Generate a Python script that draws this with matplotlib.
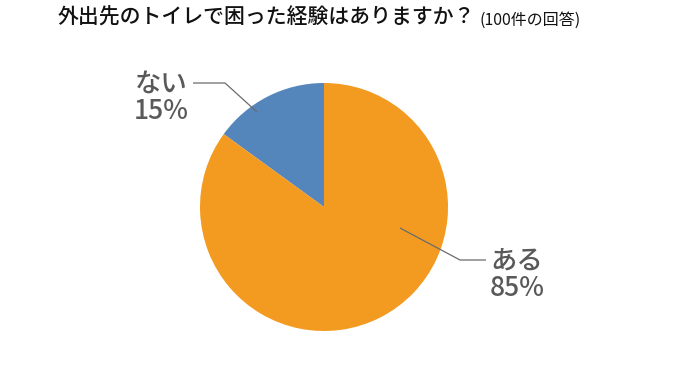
import matplotlib
matplotlib.use("Agg")
import matplotlib.pyplot as plt
import numpy as np

plt.rcParams['font.family'] = ['Noto Sans CJK JP', 'DejaVu Sans']

# data
labels = ["ない", "ある"]
values = [15, 85]
colors = ["#5586BB", "#F39A21"]
title = "外出先のトイレで困った経験はありますか？"
subtitle = "(100件の回答)"

fig = plt.figure(figsize=(6.8, 3.7), dpi=100)
W, H = 680, 370

# pie axes: center (324, 207) px, radius 124 px
cx, cy, r = 324, 207, 124
ax = fig.add_axes([(cx - r) / W, (H - cy - r) / H, 2 * r / W, 2 * r / H])
wedges, _ = ax.pie(values, colors=colors, startangle=90, counterclock=True,
                   radius=1.0, wedgeprops={'linewidth': 0})
ax.set_xlim(-1, 1)
ax.set_ylim(-1, 1)
ax.set_aspect('equal')
ax.axis('off')


def px(x, y):
    # figure pixel (from top-left) -> pie data units
    return (x - cx) / r, (cy - y) / r


# leader line layout (pixel positions): anchor, elbow, end, text centre
leaders = [
    ((257, 112), (225, 83), (193, 83), (161, 98)),
    ((400, 228), (460, 260), (486, 260), (517, 275)),
]
for (lab, val), (a, e, t, c) in zip(zip(labels, values), leaders):
    pts = [px(*a), px(*e), px(*t)]
    ax.plot([p[0] for p in pts], [p[1] for p in pts], color="#6b6b6b",
            lw=0.9, clip_on=False, solid_capstyle='butt')
    tx, ty = px(*c)
    ax.text(tx, ty, "{}\n{}%".format(lab, val), ha='center', va='center',
            fontsize=19, fontweight='medium', color="#595959",
            linespacing=1.0, clip_on=False)

fig.text(58 / W, 1 - 18 / H, title, fontsize=15, fontweight='medium',
         color="#111111", ha='left', va='center')
fig.text(479 / W, 1 - 20.5 / H, subtitle, fontsize=11.5, color="#111111",
         ha='left', va='center')

fig.savefig("out.png", dpi=100)
